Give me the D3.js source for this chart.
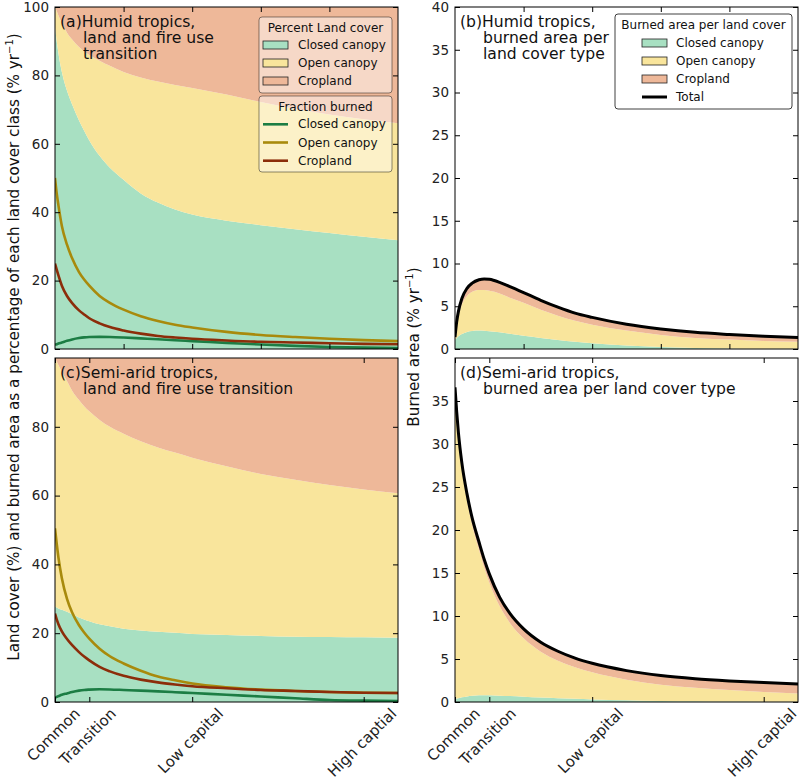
<!DOCTYPE html>
<html><head><meta charset="utf-8">
<script src="https://cdn.jsdelivr.net/npm/d3@7"></script>
<style>body{margin:0;background:#fff} svg{font-family:"DejaVu Sans",sans-serif}</style>
</head><body><svg id="chart" width="800" height="780"></svg>
<script>
// ---------------- data ----------------
const xs = [0, 0.05, 0.1, 0.2, 0.35, 0.5, 0.7, 0.85, 1, 1.3, 1.6, 2, 2.5, 3, 3.5, 4, 5, 6, 7, 8, 9, 10];
const xTickValues = [0, 1, 4, 9];
const xTickLabels = ["Common", "Transition", "Low capital", "High captial"];
const classNames = ["Closed canopy", "Open canopy", "Cropland"];

// (a) humid tropics: land cover (%)
const humidCoverClosed = [94, 90, 86.5, 81, 75.5, 71.5, 66.8, 63.8, 61, 56.5, 53, 49.5, 45.5, 42.8, 40.8, 39.3, 37.5, 36.2, 35, 33.9, 32.8, 31.8];
const humidCoverOpen   = [6, 8.8, 11, 14.3, 17, 19, 21.5, 23.2, 25, 27.8, 29.8, 31.5, 33.9, 35.4, 36.4, 37, 36.9, 36, 35.2, 34.7, 34.4, 34.2];
const humidCoverCrop   = [0, 1.2, 2.5, 4.7, 7.5, 9.5, 11.7, 13, 14, 15.7, 17.2, 19, 20.6, 21.8, 22.8, 23.7, 25.6, 27.8, 29.8, 31.4, 32.8, 34];
// (a) humid tropics: fraction burned (% yr-1)
const humidFracClosed = [1.2, 1.4, 1.6, 1.9, 2.4, 2.8, 3.2, 3.4, 3.5, 3.55, 3.5, 3.35, 3.1, 2.85, 2.55, 2.3, 1.8, 1.3, 0.9, 0.6, 0.4, 0.3];
const humidFracOpen   = [50, 45.5, 42, 36, 30.5, 26.5, 22.5, 20.3, 18.5, 15.5, 13.5, 11.5, 9.6, 8.2, 7.1, 6.3, 5, 4.1, 3.5, 3, 2.6, 2.3];
const humidFracCrop   = [25, 23.2, 21.5, 18.5, 15.5, 13.4, 11.3, 10.1, 9, 7.5, 6.4, 5.4, 4.5, 3.8, 3.35, 3, 2.5, 2.1, 1.9, 1.7, 1.5, 1.4];
// (b) humid tropics: burned area per land cover (% yr-1)
const humidBurnClosed = [1.1, 1.3, 1.5, 1.75, 2.0, 2.1, 2.15, 2.12, 2.08, 1.95, 1.78, 1.55, 1.3, 1.05, 0.85, 0.68, 0.4, 0.22, 0.12, 0.06, 0.03, 0.02];
const humidBurnOpen   = [0.1, 1.5, 2.4, 3.45, 4.2, 4.6, 4.75, 4.78, 4.72, 4.55, 4.22, 3.85, 3.3, 2.85, 2.45, 2.17, 1.75, 1.43, 1.18, 1.04, 0.92, 0.83];
const humidBurnCrop   = [0.2, 0.4, 0.5, 0.7, 0.9, 1.0, 1.2, 1.3, 1.35, 1.3, 1.3, 1.2, 1.1, 1.0, 0.9, 0.85, 0.75, 0.7, 0.65, 0.6, 0.55, 0.5];

// (c) semi-arid tropics: land cover (%)
const semiCoverClosed = [27.7, 27.5, 27.2, 26.8, 26.2, 25.5, 24.6, 24, 23.5, 22.6, 22, 21.3, 20.8, 20.4, 20.1, 19.8, 19.5, 19.2, 19, 18.9, 18.8, 18.7];
const semiCoverOpen   = [72.3, 71.5, 70.8, 69.2, 67.1, 65, 63.2, 62, 61, 59.4, 58, 56.7, 55, 53.6, 52.4, 51.2, 49, 47.1, 45.6, 44.2, 43, 42];
const semiCoverCrop   = [0, 1, 2, 4, 6.7, 9.5, 12.2, 14, 15.5, 18, 20, 22, 24.2, 26, 27.5, 29, 31.5, 33.7, 35.4, 36.9, 38.2, 39.3];
// (c) semi-arid tropics: fraction burned (% yr-1)
const semiFracClosed = [1.3, 1.5, 1.7, 2.1, 2.5, 2.9, 3.3, 3.5, 3.6, 3.7, 3.65, 3.5, 3.3, 3.1, 2.85, 2.6, 2.1, 1.6, 1.1, 0.6, 0.4, 0.3];
const semiFracOpen   = [50.5, 46, 42, 36, 30, 26, 22.3, 20.2, 18.4, 15.5, 13.3, 11.2, 9.1, 7.4, 6.3, 5.4, 4.3, 3.6, 3.2, 2.9, 2.7, 2.6];
const semiFracCrop   = [25.7, 24, 22.6, 20.5, 18.3, 16.5, 14.5, 13.2, 12.1, 10.2, 8.9, 7.6, 6.5, 5.7, 5.1, 4.6, 4, 3.5, 3.2, 2.9, 2.7, 2.6];
// (d) semi-arid tropics: burned area per land cover (% yr-1)
const semiBurnClosed = [0.35, 0.4, 0.45, 0.55, 0.65, 0.72, 0.78, 0.79, 0.78, 0.74, 0.7, 0.62, 0.53, 0.45, 0.37, 0.3, 0.2, 0.12, 0.09, 0.06, 0.04, 0.03];
const semiBurnOpen   = [35.95, 32.9, 30.35, 26.65, 22.85, 19.88, 16.92, 14.86, 13.12, 10.41, 8.5, 6.78, 5.32, 4.35, 3.68, 3.15, 2.4, 1.9, 1.56, 1.34, 1.12, 0.97];
const semiBurnCrop   = [0.3, 0.4, 0.5, 0.6, 0.7, 0.8, 0.9, 0.95, 1.0, 1.05, 1.1, 1.1, 1.1, 1.1, 1.05, 1.05, 1.05, 1.05, 1.05, 1.05, 1.1, 1.1];

const landYTicksA = [0, 20, 40, 60, 80, 100];
const landYTicksC = [0, 20, 40, 60, 80];
const burnYTicksB = [0, 5, 10, 15, 20, 25, 30, 35, 40];
const burnYTicksD = [0, 5, 10, 15, 20, 25, 30, 35];

// ---------------- style ----------------
const KEYS = ["closed", "open", "crop"];
const FILL = {closed: "#a8e0c2", open: "#f9e59c", crop: "#eeb899"};
const LINE = {closed: "#1c7d44", open: "#a88a0c", crop: "#8c2d0a"};
const FONT = "DejaVu Sans";
const svg = d3.select("#chart");

function panel(o) {
  const x = d3.scaleLinear().domain([0, 10]).range([o.l, o.r]);
  const y = d3.scaleLinear().domain([0, o.yMax]).range([o.b, o.t]);
  const clipId = "clip" + o.key;
  svg.append("clipPath").attr("id", clipId).append("rect")
    .attr("x", o.l).attr("y", o.t).attr("width", o.r - o.l).attr("height", o.b - o.t);
  const rows = xs.map((xv, i) => ({x: xv, closed: o.stack[0][i], open: o.stack[1][i], crop: o.stack[2][i]}));
  const series = d3.stack().keys(KEYS)(rows);
  const area = d3.area().x(d => x(d.data.x)).y0(d => y(d[0])).y1(d => y(d[1])).curve(d3.curveMonotoneX);
  const pg = svg.append("g").attr("clip-path", `url(#${clipId})`);
  pg.selectAll("path.area").data(series).join("path").attr("class", "area")
    .attr("d", area).attr("fill", d => FILL[d.key]);
  const line = d3.line().x(d => x(d[0])).y(d => y(d[1])).curve(d3.curveMonotoneX);
  if (o.lines) {
    o.lines.forEach((arr, k) => {
      pg.append("path").datum(xs.map((xv, i) => [xv, arr[i]]))
        .attr("d", line).attr("fill", "none").attr("stroke", LINE[KEYS[k]]).attr("stroke-width", 2.6);
    });
  }
  if (o.total) {
    const top = series[2].map(d => [d.data.x, d[1]]);
    pg.append("path").datum(top).attr("d", line).attr("fill", "none")
      .attr("stroke", "#000").attr("stroke-width", 3);
  }
  // axes
  const g = svg.append("g");
  const xt = o.labelled ? xTickValues : [2, 4, 6, 8];
  const la = g.append("g").attr("transform", `translate(${o.l},0)`)
    .call(d3.axisLeft(y).tickValues(o.yTicks).tickSizeInner(-5).tickSizeOuter(0).tickPadding(6));
  g.append("g").attr("transform", `translate(${o.r},0)`)
    .call(d3.axisRight(y).tickValues(o.yTicks).tickSizeInner(-5).tickSizeOuter(0).tickFormat(""));
  g.append("g").attr("transform", `translate(0,${o.b})`)
    .call(d3.axisBottom(x).tickValues(xt).tickSizeInner(-5).tickSizeOuter(0).tickFormat(""));
  g.append("g").attr("transform", `translate(0,${o.t})`)
    .call(d3.axisTop(x).tickValues(xt).tickSizeInner(-5).tickSizeOuter(0).tickFormat(""));
  g.selectAll(".domain").remove();
  g.selectAll(".tick line").attr("stroke", "#000");
  la.selectAll("text").attr("font-size", 13.5).attr("font-family", FONT).attr("fill", "#222");
  svg.append("rect").attr("x", o.l).attr("y", o.t).attr("width", o.r - o.l).attr("height", o.b - o.t)
    .attr("fill", "none").attr("stroke", "#000").attr("stroke-width", 1);
  if (o.labelled) {
    xTickLabels.forEach((lab, i) => {
      const t = svg.append("text").text(lab).attr("font-size", 15).attr("font-family", FONT)
        .attr("fill", "#222").attr("text-anchor", "middle").attr("dominant-baseline", "central");
      const L = t.node().getComputedTextLength();
      const half = (L + 14) * Math.SQRT1_2 / 2;
      t.attr("transform", `translate(${x(xTickValues[i]) - 1.5},${o.b + 4 + half}) rotate(-45)`);
    });
  }
  // panel title
  const tt = svg.append("text").attr("font-size", 15.6).attr("font-family", FONT).attr("fill", "#111");
  o.title.forEach((ln, i) => tt.append("tspan").attr("x", i === 0 ? o.l + 5 : o.l + 28)
    .attr("y", o.t + 19.5 + i * 16.3).text(ln));
  return {x, y};
}

function legend(bx, by, w, h, title, entries, opts) {
  const g = svg.append("g").attr("font-family", FONT).attr("font-size", 12);
  g.append("rect").attr("x", bx).attr("y", by).attr("width", w).attr("height", h).attr("rx", 3)
    .attr("fill", "#fff").attr("fill-opacity", opts.alpha).attr("stroke", "#000").attr("stroke-opacity", opts.edge);
  g.append("text").attr("x", bx + w / 2).attr("y", by + opts.titleDy).attr("text-anchor", "middle")
    .attr("dominant-baseline", "central").attr("fill", "#111").text(title);
  entries.forEach((e, i) => {
    const cy = by + opts.firstDy + i * opts.step;
    if (e.type === "patch") {
      g.append("rect").attr("x", bx + opts.px).attr("y", cy - 4).attr("width", 25).attr("height", 8)
        .attr("fill", e.color).attr("stroke", "#222").attr("stroke-width", 0.8);
    } else {
      g.append("line").attr("x1", bx + opts.px).attr("x2", bx + opts.px + 25).attr("y1", cy).attr("y2", cy)
        .attr("stroke", e.color).attr("stroke-width", e.width);
    }
    g.append("text").attr("x", bx + opts.tx).attr("y", cy).attr("dominant-baseline", "central")
      .attr("fill", "#111").text(e.label);
  });
}

const L1 = 55, R1 = 398, L2 = 455, R2 = 798;
const T1 = 7, B1 = 349, T2 = 358, B2 = 702;

panel({key: "a", l: L1, r: R1, t: T1, b: B1, yMax: 100, yTicks: landYTicksA,
  stack: [humidCoverClosed, humidCoverOpen, humidCoverCrop],
  lines: [humidFracClosed, humidFracOpen, humidFracCrop],
  title: ["(a)Humid tropics,", "land and fire use", "transition"]});
panel({key: "b", l: L2, r: R2, t: T1, b: B1, yMax: 40, yTicks: burnYTicksB,
  stack: [humidBurnClosed, humidBurnOpen, humidBurnCrop], total: true,
  title: ["(b)Humid tropics,", "burned area per", "land cover type"]});
panel({key: "c", l: L1, r: R1, t: T2, b: B2, yMax: 100, yTicks: landYTicksC, labelled: true,
  stack: [semiCoverClosed, semiCoverOpen, semiCoverCrop],
  lines: [semiFracClosed, semiFracOpen, semiFracCrop],
  title: ["(c)Semi-arid tropics,", "land and fire use transition"]});
panel({key: "d", l: L2, r: R2, t: T2, b: B2, yMax: 40, yTicks: burnYTicksD, labelled: true,
  stack: [semiBurnClosed, semiBurnOpen, semiBurnCrop], total: true,
  title: ["(d)Semi-arid tropics,", "burned area per land cover type"]});

// legends
const patchEntries = classNames.map((c, i) => ({type: "patch", color: FILL[KEYS[i]], label: c}));
const lineEntries = classNames.map((c, i) => ({type: "line", color: LINE[KEYS[i]], width: 2.6, label: c}));
legend(R1 - 139, 17, 133, 76, "Percent Land cover", patchEntries,
  {alpha: 0.45, edge: 0.45, titleDy: 11, firstDy: 28, step: 18, px: 4, tx: 39});
legend(R1 - 139, 96, 133, 76, "Fraction burned", lineEntries,
  {alpha: 0.45, edge: 0.45, titleDy: 10.5, firstDy: 28.3, step: 18.2, px: 4, tx: 39});
legend(R2 - 183, 14, 177, 95, "Burned area per land cover",
  patchEntries.concat([{type: "line", color: "#000", width: 3, label: "Total"}]),
  {alpha: 0.9, edge: 0.75, titleDy: 11, firstDy: 29, step: 18, px: 27, tx: 61});

// y-axis labels
function ylabel(cx, cy, main) {
  const t = svg.append("text").attr("transform", `translate(${cx},${cy}) rotate(-90)`)
    .attr("text-anchor", "middle").attr("font-size", 15.2).attr("font-family", FONT).attr("fill", "#111");
  t.append("tspan").text(main + " (% yr");
  t.append("tspan").attr("font-size", 10).attr("dy", -6).text("\u22121");
  t.append("tspan").attr("dy", 6).text(")");
}
ylabel(19, 347, "Land cover (%) and burned area as a percentage of each land cover class");
ylabel(419, 347, "Burned area");
</script></body></html>
